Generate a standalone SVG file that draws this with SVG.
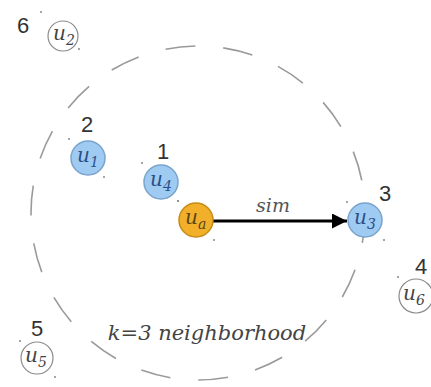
<svg xmlns="http://www.w3.org/2000/svg" width="431" height="387" viewBox="0 0 431 387">
<defs>
<style>
.blue{fill:#9fcbf2;stroke:#7aa4cc;stroke-width:1.5}
.orange{fill:#f2b02a;stroke:#c58c16;stroke-width:1.5}
.white{fill:#fff;stroke:#8a8a8a;stroke-width:1.2}
.serif{font-family:"DejaVu Serif","Liberation Serif","Times New Roman",serif;font-style:italic}
.u{font-size:20px}
.sub{font-size:14px}
.tb{fill:#2b4f86}
.to{fill:#5a4418}
.tw{fill:#444}
.num{font-family:"Liberation Sans",Arial,sans-serif;font-size:22px;fill:#333}
.dot{fill:#888}
.ring{fill:none;stroke:#9a9a9a;stroke-width:1.6;stroke-dasharray:30 28}
</style>
<marker id="ah" viewBox="0 0 10 10" refX="10" refY="5" markerWidth="7" markerHeight="5" markerUnits="strokeWidth" orient="auto">
<path d="M0,0 L10,5 L0,10 z" fill="#000"/>
</marker>
</defs>
<rect width="431" height="387" fill="#fff"/>
<circle class="ring" cx="198" cy="213" r="167"/>
<g id="connectors">
<line x1="213" y1="221" x2="347" y2="221" stroke="#000" stroke-width="3" marker-end="url(#ah)"/>
<text class="serif" x="273" y="212" text-anchor="middle" font-size="19" fill="#555">sim</text>
</g>
<g id="u2">
<text class="num" x="23" y="33" text-anchor="middle">6</text>
<circle class="white" cx="63" cy="36" r="15"/>
<text class="serif u tw" x="53" y="40">u<tspan class="sub" dy="5">2</tspan></text>
<circle class="dot" cx="41" cy="12" r="1"/><circle class="dot" cx="79" cy="49" r="1"/>
</g>
<g id="u1">
<text class="num" x="87" y="132" text-anchor="middle">2</text>
<circle class="blue" cx="88" cy="158" r="17"/>
<text class="serif u tb" x="77" y="162">u<tspan class="sub" dy="5">1</tspan></text>
<circle class="dot" cx="69" cy="139" r="1"/><circle class="dot" cx="104" cy="177" r="1"/>
</g>
<g id="u4">
<text class="num" x="163" y="159" text-anchor="middle">1</text>
<circle class="blue" cx="161" cy="182" r="17"/>
<text class="serif u tb" x="150" y="186">u<tspan class="sub" dy="5">4</tspan></text>
<circle class="dot" cx="142" cy="163" r="1"/><circle class="dot" cx="178" cy="201" r="1"/>
</g>
<g id="ua">
<circle class="orange" cx="196" cy="220" r="17"/>
<text class="serif u to" x="185" y="224">u<tspan class="sub" dy="5">a</tspan></text>
<circle class="dot" cx="178" cy="201" r="1"/><circle class="dot" cx="214" cy="240" r="1"/>
</g>
<g id="u3">
<text class="num" x="385" y="201" text-anchor="middle">3</text>
<circle class="blue" cx="365" cy="220" r="17"/>
<text class="serif u tb" x="354" y="224">u<tspan class="sub" dy="5">3</tspan></text>
<circle class="dot" cx="347" cy="202" r="1"/><circle class="dot" cx="384" cy="240" r="1"/>
</g>
<g id="u6">
<text class="num" x="421" y="274" text-anchor="middle">4</text>
<circle class="white" cx="416" cy="296" r="17"/>
<text class="serif u tw" x="403" y="300">u<tspan class="sub" dy="5">6</tspan></text>
<circle class="dot" cx="398" cy="277" r="1"/>
</g>
<g id="u5">
<text class="num" x="37" y="336" text-anchor="middle">5</text>
<circle class="white" cx="37" cy="358" r="16"/>
<text class="serif u tw" x="25" y="362">u<tspan class="sub" dy="5">5</tspan></text>
<circle class="dot" cx="20" cy="341" r="1"/><circle class="dot" cx="55" cy="377" r="1"/>
</g>
<text class="serif" x="207" y="340" text-anchor="middle" font-size="21" fill="#444">k=3 neighborhood</text>
</svg>
